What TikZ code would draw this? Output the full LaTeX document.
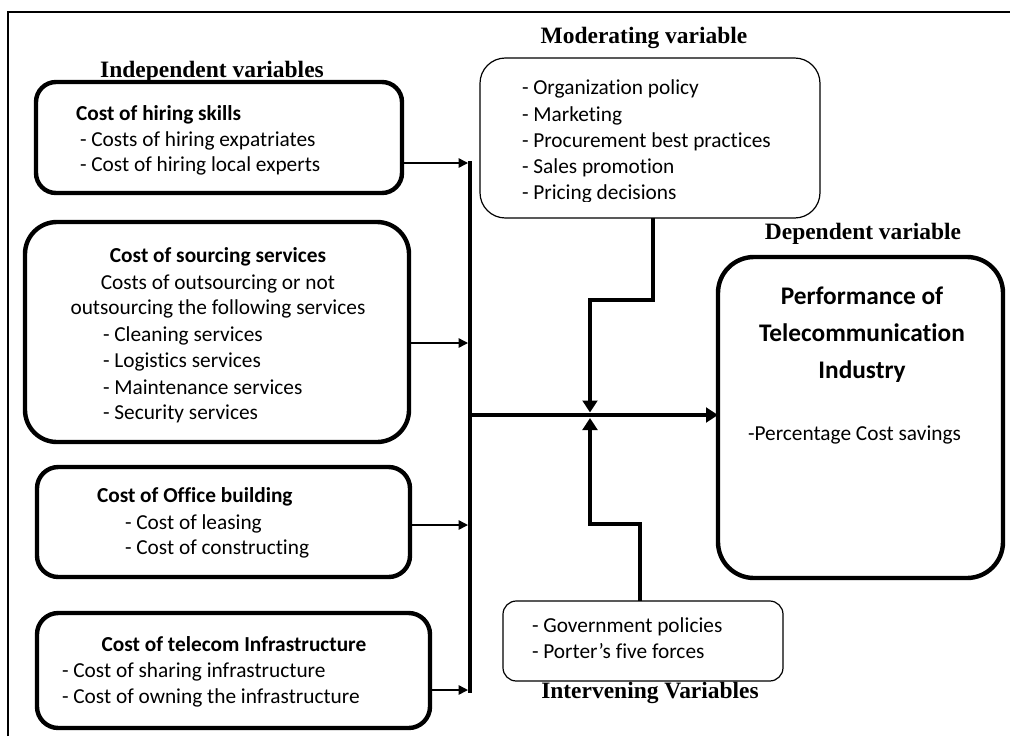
\documentclass[tikz,border=0pt]{standalone}
\usepackage{fontspec}
\setmainfont{Carlito}[Ligatures=CommonOff]
\newfontfamily\headfont{Liberation Serif}
\usetikzlibrary{arrows.meta,fit}
\begin{document}
\begin{tikzpicture}[x=0.75pt,y=-0.75pt,
  every node/.style={inner sep=0pt, outer sep=0pt},
  body/.style={font=\fontsize{16}{19.5}\selectfont, anchor=base west},
  bodyb/.style={font=\fontsize{16}{19.5}\selectfont\bfseries, anchor=base west},
  headc/.style={font=\fontsize{16}{19.5}\selectfont\bfseries, anchor=base},
  bodyc/.style={font=\fontsize{16}{19.5}\selectfont, anchor=base},
  depc/.style={font=\fontsize{19}{24}\selectfont\bfseries, anchor=base},
  vartitle/.style={font=\headfont\fontsize{17.6}{20}\selectfont\bfseries, anchor=base},
  ivbox/.style={draw, line width=3.3pt},
  softbox/.style={draw, line width=0.9pt},
  feed/.style={line width=1.1pt, -{Triangle[length=7pt,width=7pt]}},
  busline/.style={line width=3.3pt},
  mainflow/.style={line width=3.3pt, -{Triangle[length=9pt,width=11pt]}},
]
\useasboundingbox (0,0) rectangle (1010,736);

% outer frame (top and left edges only)
\coordinate (frameBL) at (8,736);
\coordinate (frameTL) at (8,12);
\coordinate (frameTR) at (1010,12);
\draw[line width=1.6pt] (frameBL) -- (frameTL) -- (frameTR);

% ---------- independent variables ----------
\node[vartitle] (indT) at (212,77) {Independent variables};

\node[ivbox, rounded corners=15pt, fit={(36,82) (402,193)}] (b1) {};
\node[bodyb] (b1h) at (76,120) {Cost of hiring skills};
\node[body] (b1a) at (80,146) {- Costs of hiring expatriates};
\node[body] (b1b) at (80,171) {- Cost of hiring local experts};

\node[ivbox, rounded corners=24pt, fit={(25,222) (409,442)}] (b2) {};
\node[headc] (b2h) at (218,262) {Cost of sourcing services};
\node[bodyc] (b2a) at (218,289) {Costs of outsourcing or not};
\node[bodyc] (b2b) at (218,314) {outsourcing the following services};
\node[body] (b2c) at (103,341) {- Cleaning services};
\node[body] (b2d) at (103,367) {- Logistics services};
\node[body] (b2e) at (103,394) {- Maintenance services};
\node[body] (b2f) at (103,419) {- Security services};

\node[ivbox, rounded corners=16pt, fit={(37,467) (410,577)}] (b3) {};
\node[bodyb] (b3h) at (97,502) {Cost of Office building};
\node[body] (b3a) at (125,529) {- Cost of leasing};
\node[body] (b3b) at (125,554) {- Cost of constructing};

\node[ivbox, rounded corners=16pt, fit={(37,613) (430,728)}] (b4) {};
\node[headc] (b4h) at (234,651) {Cost of telecom Infrastructure};
\node[body] (b4a) at (62,677) {- Cost of sharing infrastructure};
\node[body] (b4b) at (62,703) {- Cost of owning the infrastructure};

% ---------- moderating variable ----------
\node[vartitle] (modT) at (644,43) {Moderating variable};
\node[softbox, rounded corners=19pt, fit={(480,58) (820,218)}] (mod) {};
\node[body] (m1) at (522,94) {- Organization policy};
\node[body] (m2) at (522,121) {- Marketing};
\node[body] (m3) at (522,147) {- Procurement best practices};
\node[body] (m4) at (522,173) {- Sales promotion};
\begin{scope}
  % the last item sits on the lower edge of its text frame
  \clip (480,58) rectangle (820,201);
  \node[body] (m5) at (522,199) {- Pricing decisions};
\end{scope}

% ---------- dependent variable ----------
\node[vartitle] (depT) at (863,239) {Dependent variable};
\node[ivbox, rounded corners=27pt, fit={(718,257) (1003,578)}] (dep) {};
\node[depc] (d1) at (862,304) {Performance of};
\node[depc] (d2) at (862,341) {Telecommunication};
\node[depc] (d3) at (862,378) {Industry};
\node[body] (d4) at (748,440) {-Percentage Cost savings};

% ---------- intervening variables ----------
\node[softbox, rounded corners=10pt, fit={(503,601) (783,681)}] (int) {};
\node[body] (i1) at (532,632) {- Government policies};
\node[body] (i2) at (532,658) {- Porter’s five forces};
\node[vartitle] (intT) at (650,698) {Intervening Variables};

% ---------- connectors ----------
\coordinate (busTop) at (470,161);
\coordinate (busBot) at (470,693);
\draw[busline] (busTop) -- (busBot);

\coordinate (f1) at (468,163);
\coordinate (f2) at (468,343);
\coordinate (f3) at (468,525);
\coordinate (f4) at (468,690);
\draw[feed] (b1.east |- f1) -- (f1);
\draw[feed] (b2.east |- f2) -- (f2);
\draw[feed] (b3.east |- f3) -- (f3);
\draw[feed] (b4.east |- f4) -- (f4);

\coordinate (hub) at (470,415);
\draw[mainflow] (hub) -- (dep.west |- hub);

\coordinate (mStep) at (653,300);
\coordinate (mTip) at (590,412.5);
\draw[mainflow] (mod.south -| mStep) -- (mStep) -- (mStep -| mTip) -- (mTip);

\coordinate (iStep) at (640,524);
\coordinate (iTip) at (590,418);
\draw[mainflow] (int.north -| iStep) -- (iStep) -- (iStep -| iTip) -- (iTip);
\end{tikzpicture}
\end{document}
